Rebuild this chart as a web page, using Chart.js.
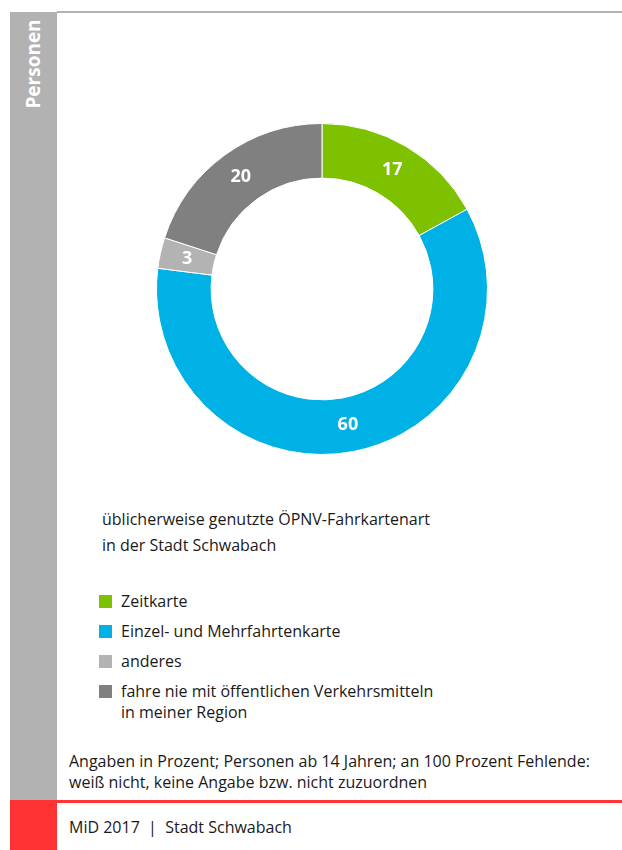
<!DOCTYPE html>
<html>
<head>
<meta charset="utf-8">
<script src="https://cdn.jsdelivr.net/npm/chart.js@4.4.0/dist/chart.umd.min.js"></script>
<style>
  body { margin: 0; width: 622px; height: 850px; position: relative; background: #fff; font-family: "Open Sans", "Noto Sans", sans-serif; color: #1a1a1a; overflow: hidden; }
  #side { position: absolute; left: 10px; top: 12px; width: 47px; height: 789px; background: #b2b2b2; }
  #side span { position: absolute; left: 23px; top: 52px; transform: translate(-50%, -50%) rotate(-90deg); color: #fff; font-weight: bold; font-size: 19px; white-space: nowrap; }
  #topline { position: absolute; left: 57px; top: 11px; width: 565px; height: 2px; background: #b2b2b2; }
  #redline { position: absolute; left: 10px; top: 800px; width: 612px; height: 3px; background: #ff3333; }
  #redblock { position: absolute; left: 10px; top: 800px; width: 47px; height: 50px; background: #ff3333; }
  #chartbox { position: absolute; left: 151px; top: 118px; width: 342px; height: 342px; }
  #title { position: absolute; left: 102px; top: 506px; font-size: 16px; line-height: 26px; }
  #legend { position: absolute; left: 99px; top: 591px; font-size: 16px; }
  .item { display: flex; align-items: flex-start; margin-bottom: 9px; line-height: 21px; }
  .sw { width: 13px; height: 13px; margin-top: 4px; margin-right: 9px; flex: none; }
  #note { position: absolute; left: 69px; top: 751px; font-size: 16px; line-height: 21px; }
  #foot { position: absolute; left: 69px; top: 816px; font-size: 16px; }
</style>
</head>
<body>
<div id="side"><span>Personen</span></div>
<div id="topline"></div>
<div id="redline"></div>
<div id="redblock"></div>
<div id="chartbox"><canvas id="c"></canvas></div>
<div id="title">üblicherweise genutzte ÖPNV-Fahrkartenart<br>in der Stadt Schwabach</div>
<div id="legend"></div>
<div id="note">Angaben in Prozent; Personen ab 14 Jahren; an 100 Prozent Fehlende:<br>weiß nicht, keine Angabe bzw. nicht zuzuordnen</div>
<div id="foot">MiD 2017&nbsp; |&nbsp; Stadt Schwabach</div>
<script>
var categories = ['Zeitkarte', 'Einzel- und Mehrfahrtenkarte', 'anderes', 'fahre nie mit öffentlichen Verkehrsmitteln<br>in meiner Region']
var values = [17, 60, 3, 20]
var colors = ['#7dc100', '#00b1e6', '#b3b3b3', '#808080']

// legend as html
var leg = document.getElementById('legend')
categories.forEach(function (c, i) {
  leg.innerHTML += '<div class="item"><div class="sw" style="background:' + colors[i] + '"></div><div>' + c + '</div></div>'
})

// white numbers in the middle of each ring segment
var ringLabels = {
  id: 'ringLabels',
  afterDatasetsDraw: function (chart) {
    var ctx = chart.ctx
    var meta = chart.getDatasetMeta(0)
    ctx.save()
    ctx.fillStyle = '#fff'
    ctx.font = 'bold 18px "Open Sans", sans-serif'
    ctx.textAlign = 'center'
    ctx.textBaseline = 'middle'
    meta.data.forEach(function (arc, i) {
      var p = arc.tooltipPosition()
      ctx.fillText(values[i], p.x, p.y)
    })
    ctx.restore()
  }
}

new Chart(document.getElementById('c'), {
  type: 'doughnut',
  data: {
    labels: categories,
    datasets: [{
      data: values,
      backgroundColor: colors,
      borderColor: '#fff',
      borderWidth: 1
    }]
  },
  options: {
    responsive: true,
    maintainAspectRatio: false,
    animation: false,
    cutout: '67%',
    layout: { padding: 5 },
    plugins: {
      legend: { display: false },
      tooltip: { enabled: false }
    }
  },
  plugins: [ringLabels]
})
</script>
</body>
</html>
